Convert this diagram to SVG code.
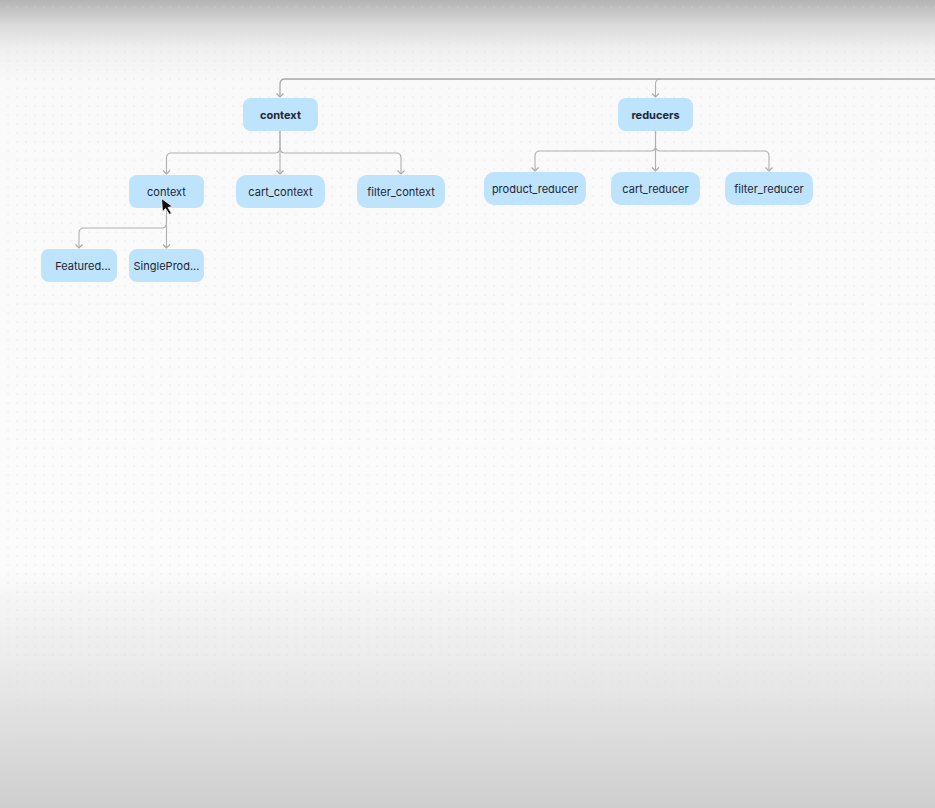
<svg xmlns="http://www.w3.org/2000/svg" width="935" height="808" viewBox="0 0 935 808">
<defs>
<linearGradient id="bg" x1="0" y1="0" x2="0" y2="808" gradientUnits="userSpaceOnUse">
<stop offset="0" stop-color="#b3b3b3"/>
<stop offset="0.03" stop-color="#d9d9d9"/>
<stop offset="0.06" stop-color="#efefef"/>
<stop offset="0.1" stop-color="#f9f9f9"/>
<stop offset="0.7" stop-color="#fcfcfc"/>
<stop offset="0.75" stop-color="#f4f4f4"/>
<stop offset="0.82" stop-color="#ebebeb"/>
<stop offset="1" stop-color="#cecece"/>
</linearGradient>
<pattern id="dots" x="0" y="0" width="9" height="9" patternUnits="userSpaceOnUse">
<circle cx="8" cy="7" r="0.55" fill="#d6d6d6"/>
</pattern>
<marker id="arr" viewBox="-5 -5 10 10" markerWidth="10" markerHeight="10" markerUnits="userSpaceOnUse" orient="auto" refX="0" refY="0">
<path d="M-3.5,-3.5 L0,0 L-3.5,3.5" fill="none" stroke="#a9a9a9" stroke-width="1.1"/>
</marker>
<style>
.node rect{fill:#bee3fc;}
.node text{font-family:Inter,"Liberation Sans",sans-serif;font-size:11px;fill:#1e2533;text-anchor:middle;}
.node text.b{font-weight:700;}
.edge{fill:none;stroke:#b0b0b0;stroke-width:1.1;}
</style>
</defs>
<rect width="935" height="808" fill="url(#bg)"/>
<rect width="935" height="808" fill="url(#dots)"/>

<g id="connectors">
<path class="edge" d="M935,79 H285 Q280,79 280,84 V97" marker-end="url(#arr)" style="stroke:#a8a8a8;stroke-width:1.3"/>
<path class="edge" d="M661,79 Q655.5,79 655.5,84 V97" marker-end="url(#arr)"/>
<path class="edge" d="M280,131 V148 Q280,153 275,153 H171.5 Q166.5,153 166.5,158 V174" marker-end="url(#arr)"/>
<path class="edge" d="M280,131 V174" marker-end="url(#arr)"/>
<path class="edge" d="M280,148 Q280,153 285,153 H396 Q401,153 401,158 V174" marker-end="url(#arr)"/>
<path class="edge" d="M655.5,131 V146 Q655.5,151 650.5,151 H540 Q535,151 535,156 V171" marker-end="url(#arr)"/>
<path class="edge" d="M655.5,131 V171" marker-end="url(#arr)"/>
<path class="edge" d="M655.5,146 Q655.5,151 660.5,151 H764 Q769,151 769,156 V171" marker-end="url(#arr)"/>
<path class="edge" d="M166.5,208 V223 Q166.5,228 161.5,228 H84 Q79,228 79,233 V248" marker-end="url(#arr)"/>
<path class="edge" d="M166.5,208 V248" marker-end="url(#arr)"/>
</g>

<g id="node-context-root" class="node"><rect x="243" y="98" width="75" height="33" rx="8"/><text class="b" x="280.5" y="118.5">context</text></g>
<g id="node-reducers" class="node"><rect x="618" y="98" width="75" height="33" rx="8"/><text class="b" x="655.5" y="118.5">reducers</text></g>
<g id="node-context" class="node"><rect x="129" y="175" width="75" height="33" rx="8"/><text x="166.5" y="195.5">context</text></g>
<g id="node-cart-context" class="node"><rect x="236" y="175" width="89" height="33" rx="10"/><text x="280.5" y="195.5">cart_context</text></g>
<g id="node-filter-context" class="node"><rect x="357" y="175" width="88" height="33" rx="10"/><text x="401" y="195.5">filter_context</text></g>
<g id="node-product-reducer" class="node"><rect x="484" y="172" width="102" height="33" rx="10"/><text x="535" y="192.5">product_reducer</text></g>
<g id="node-cart-reducer" class="node"><rect x="611" y="172" width="89" height="33" rx="10"/><text x="655.5" y="192.5">cart_reducer</text></g>
<g id="node-filter-reducer" class="node"><rect x="725" y="172" width="88" height="33" rx="10"/><text x="769" y="192.5">filter_reducer</text></g>
<g id="node-featured" class="node"><rect x="41" y="249" width="76" height="33" rx="8"/><text x="83" y="269.5">Featured...</text></g>
<g id="node-singleprod" class="node"><rect x="129" y="249" width="75" height="33" rx="8"/><text x="166.5" y="269.5">SingleProd...</text></g>

<path d="M161.5,198.5 L162.5,212 L165.5,208.5 L169.5,214.5 L171.5,213.3 L168,207.5 L172.5,206.5 Z" fill="#111" stroke="#fff" stroke-width="0.8" stroke-linejoin="round"/>
</svg>
